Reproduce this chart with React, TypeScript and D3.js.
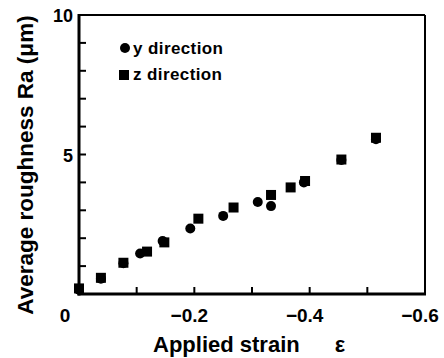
import React from "react";
import * as d3 from "d3";

const yDirStrain = [0, -0.038, -0.077, -0.106, -0.145, -0.193, -0.25, -0.31, -0.333, -0.39, -0.455, -0.515];
const yDirRa = [0.15, 0.55, 1.1, 1.45, 1.9, 2.35, 2.8, 3.3, 3.15, 4.0, 4.8, 5.55];
const zDirStrain = [0, -0.038, -0.077, -0.118, -0.148, -0.207, -0.268, -0.333, -0.367, -0.392, -0.455, -0.515];
const zDirRa = [0.2, 0.58, 1.12, 1.52, 1.85, 2.7, 3.1, 3.55, 3.82, 4.05, 4.82, 5.6];
const xTickLabels = ["0", "−0.2", "−0.4", "−0.6"];
const xTickValues = [0, -0.2, -0.4, -0.6];
const yTickLabels = ["5", "10"];
const yTickValues = [5, 10];

export default function App() {
  const W = 444, H = 358;
  const left = 79, right = 425, top = 15, bottom = 294;
  const x = d3.scaleLinear().domain([0, -0.6]).range([left, right]);
  const y = d3.scaleLinear().domain([0, 10]).range([bottom, top]);
  const font = "'Liberation Sans', Arial, sans-serif";
  const minorX = d3.range(1, 6).map((i) => -i / 10);
  const minorY = d3.range(1, 10);
  const ms = 10;
  return (
    <svg width={W} height={H} style={{ position: "absolute", left: 0, top: 0, background: "#fff" }}>
      <rect x={0} y={0} width={W} height={H} fill="#fff" />
      {/* frame */}
      <line x1={left} y1={top} x2={right} y2={top} stroke="#000" strokeWidth={2} />
      <line x1={right} y1={top} x2={right} y2={bottom} stroke="#000" strokeWidth={2} />
      <line x1={left} y1={top - 1} x2={left} y2={bottom + 1.5} stroke="#000" strokeWidth={3} />
      <line x1={left - 1.5} y1={bottom} x2={right + 1} y2={bottom} stroke="#000" strokeWidth={3} />
      {minorX.map((v) => (
        <line key={"xt" + v} x1={x(v)} x2={x(v)} y1={bottom} y2={bottom - 7} stroke="#000" strokeWidth={2} />
      ))}
      {minorY.map((v) => (
        <line key={"yt" + v} x1={left} x2={left + 7} y1={y(v)} y2={y(v)} stroke="#000" strokeWidth={2} />
      ))}
      {xTickValues.map((v, i) => (
        <text key={"xl" + i} x={i === 0 ? 65 : x(v) - 5} y={322} textAnchor="middle" fontFamily={font} fontWeight="bold" fontSize={19}>
          {xTickLabels[i]}
        </text>
      ))}
      {yTickValues.map((v, i) => (
        <text key={"yl" + i} x={73} y={y(v) + 7} textAnchor="end" fontFamily={font} fontWeight="bold" fontSize={18}>
          {yTickLabels[i]}
        </text>
      ))}
      {/* points */}
      {yDirStrain.map((s, i) => (
        <circle key={"c" + i} cx={x(s)} cy={y(yDirRa[i])} r={ms / 2} fill="#000" />
      ))}
      {zDirStrain.map((s, i) => (
        <rect key={"s" + i} x={x(s) - ms / 2} y={y(zDirRa[i]) - ms / 2} width={ms} height={ms} fill="#000" />
      ))}
      {/* legend */}
      <circle cx={125} cy={48} r={5} fill="#000" />
      <text x={133} y={54} fontFamily={font} fontWeight="bold" fontSize={17} letterSpacing={0.4}>y direction</text>
      <rect x={119} y={70} width={10} height={10} fill="#000" />
      <text x={133} y={80} fontFamily={font} fontWeight="bold" fontSize={17} letterSpacing={0.4}>z direction</text>
      {/* axis titles */}
      <text x={153} y={352} textAnchor="start" fontFamily={font} fontWeight="bold" fontSize={22}>
        Applied strain
      </text>
      <text x={340} y={352} textAnchor="middle" fontFamily={font} fontWeight="bold" fontSize={22}>
        ε
      </text>
      <text transform={`translate(33,165) rotate(-90)`} textAnchor="middle" fontFamily={font} fontWeight="bold" fontSize={22.5}>
        Average roughness Ra (μm)
      </text>
    </svg>
  );
}
